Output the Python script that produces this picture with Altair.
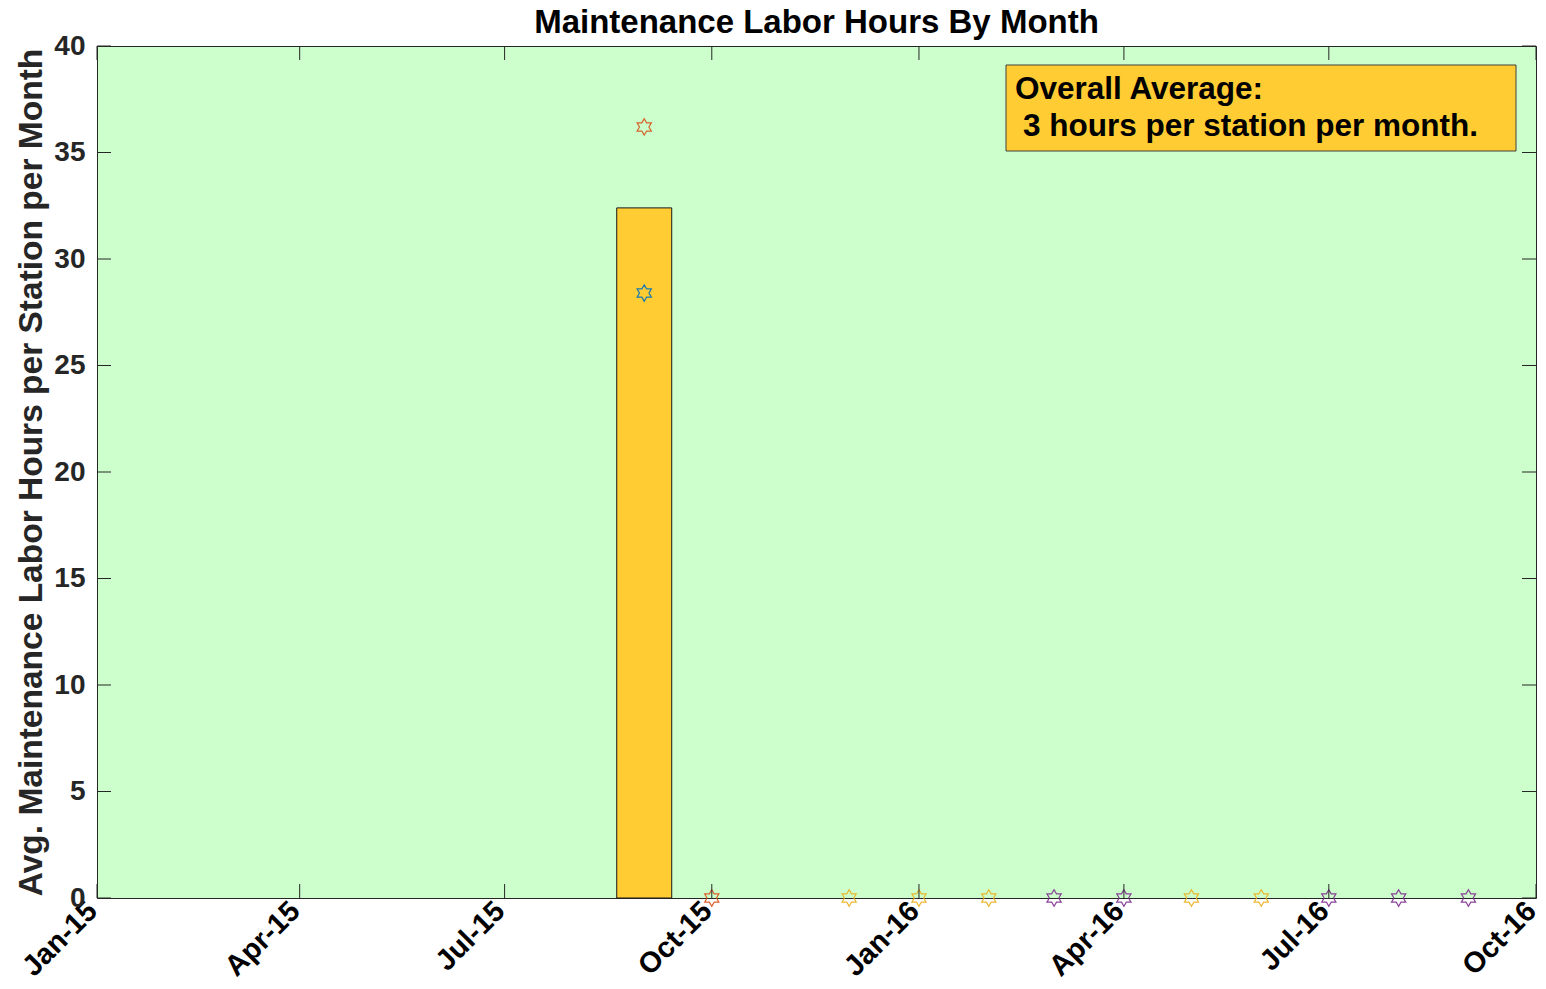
import altair as alt
import pandas as pd

FONT = "Liberation Sans"

# ---- data ----
bar_months = ["2015-09-01"]
bar_hours = [32.4]

star_months = ["2015-09-01", "2015-09-01", "2015-10-01", "2015-12-01", "2016-01-01",
               "2016-02-01", "2016-03-01", "2016-04-01", "2016-05-01", "2016-06-01",
               "2016-07-01", "2016-08-01", "2016-09-01"]
star_hours = [36.2, 28.4, 0, 0, 0, 0, 0, 0, 0, 0, 0, 0, 0]
star_series = ["Station B", "Station A", "Station B", "Station C", "Station C",
               "Station C", "Station D", "Station D", "Station C", "Station C",
               "Station D", "Station D", "Station D"]

series_names = ["Station A", "Station B", "Station C", "Station D"]
series_colors = ["#0072BD", "#D95319", "#EDB120", "#7E2F8E"]

y_ticks = [0, 5, 10, 15, 20, 25, 30, 35, 40]
x_tick_months = ["2015-01-01", "2015-04-01", "2015-07-01", "2015-10-01",
                 "2016-01-01", "2016-04-01", "2016-07-01", "2016-10-01"]

note_line1 = "Overall Average:"
note_line2 = "3 hours per station per month."

# ---- tables ----
bars = pd.DataFrame({"month": bar_months, "hours": bar_hours})
stars = pd.DataFrame({"month": star_months, "hours": star_hours, "series": star_series})
yt = pd.DataFrame({"hours": y_ticks})
xt = pd.DataFrame({"month": x_tick_months})
one = pd.DataFrame({"k": [0]})

W, H = 1439, 852
TL = 14  # tick length


def dt(s):
    y, m, d = [int(v) for v in s.split("-")]
    return alt.DateTime(year=y, month=m, date=d, utc=True)


xscale = alt.Scale(type="utc", domain=[dt("2015-01-01"), dt("2016-10-01")],
                   nice=False, padding=0)
yscale = alt.Scale(domain=[0, 40], nice=False, padding=0)

x_axis = alt.Axis(
    values=[dt(s) for s in x_tick_months],
    labelExpr="utcFormat(datum.value, '%b-%y')",
    labelAngle=315, labelAlign="right", labelBaseline="middle",
    labelFontSize=29, labelFontWeight="bold", labelColor="#000000",
    labelFont=FONT, labelPadding=8, labelOffset=-5, labelFlush=False, labelOverlap=False,
    title=None, ticks=False, domain=False, grid=False,
)
y_axis = alt.Axis(
    values=y_ticks,
    title="Avg. Maintenance Labor Hours per Station per Month",
    titleFontSize=33.5, titleFontWeight="bold", titleColor="#262626", titleFont=FONT,
    labelFontSize=28, labelFontWeight="bold", labelColor="#262626", labelFont=FONT,
    labelPadding=12, titlePadding=5, labelOverlap=False,
    ticks=False, domain=False, grid=False,
)

X = alt.X("month:T", scale=xscale, axis=x_axis, title=None)
Y = alt.Y("hours:Q", scale=yscale, axis=y_axis,
          title="Avg. Maintenance Labor Hours per Station per Month")

bar_layer = alt.Chart(bars).mark_bar(
    size=55, color="#FFCC33", stroke="#1a1a1a", strokeWidth=1
).encode(x=X, y=Y)

hexagram = ("M0,-1L0.289,-0.5L0.866,-0.5L0.577,0L0.866,0.5L0.289,0.5L0,1"
            "L-0.289,0.5L-0.866,0.5L-0.577,0L-0.866,-0.5L-0.289,-0.5Z")

star_layer = alt.Chart(stars).mark_point(
    shape=hexagram, size=270, filled=False, strokeWidth=1.2, opacity=0.9
).encode(
    x=alt.X("month:T", scale=xscale),
    y=alt.Y("hours:Q", scale=yscale),
    color=alt.Color("series:N", scale=alt.Scale(domain=series_names, range=series_colors),
                    legend=None),
)

tick_style = dict(color="#262626", strokeWidth=1)
ytick_left = alt.Chart(yt).mark_rule(**tick_style).encode(
    y=alt.Y("hours:Q", scale=yscale), x=alt.value(0), x2=alt.value(TL))
ytick_right = alt.Chart(yt).mark_rule(**tick_style).encode(
    y=alt.Y("hours:Q", scale=yscale), x=alt.value(W - TL), x2=alt.value(W))
xtick_bottom = alt.Chart(xt).mark_rule(**tick_style).encode(
    x=alt.X("month:T", scale=xscale), y=alt.value(H), y2=alt.value(H - TL))
xtick_top = alt.Chart(xt).mark_rule(**tick_style).encode(
    x=alt.X("month:T", scale=xscale), y=alt.value(0), y2=alt.value(TL))

note_box = alt.Chart(one).mark_rect(
    fill="#FFCC33", stroke="#404040", strokeWidth=1
).encode(x=alt.value(909), x2=alt.value(1419), y=alt.value(19), y2=alt.value(105))

text_style = dict(align="left", baseline="alphabetic", fontSize=31.5, fontWeight="bold",
                  font=FONT, color="#000000")
note_text1 = alt.Chart(one).mark_text(**text_style).encode(
    x=alt.value(918), y=alt.value(53), text=alt.value(note_line1))
note_text2 = alt.Chart(one).mark_text(**text_style).encode(
    x=alt.value(926), y=alt.value(90), text=alt.value(note_line2))

chart = alt.layer(
    bar_layer, star_layer, ytick_left, ytick_right, xtick_bottom, xtick_top,
    note_box, note_text1, note_text2
).properties(
    width=W, height=H,
    title=alt.TitleParams("Maintenance Labor Hours By Month", fontSize=33,
                          fontWeight="bold", color="#000000", font=FONT,
                          anchor="middle", offset=-8),
    autosize=alt.AutoSizeParams(type="none"),
    padding={"left": 89, "top": 38, "right": 2, "bottom": 83},
    background="#FFFFFF",
).configure_view(
    fill="#CCFFCC", stroke="#262626", strokeWidth=1
)

chart.save("out.html", embed_options={"renderer": "svg", "actions": False})
